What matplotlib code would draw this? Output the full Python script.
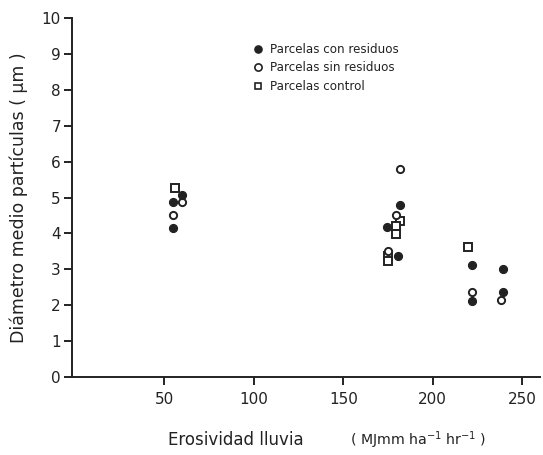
import matplotlib
matplotlib.use("Agg")
import matplotlib.pyplot as plt
from matplotlib.lines import Line2D

# Data
con_x = [59.9, 55.0, 55.0, 181.9, 174.4, 180.7, 222.2, 239.1, 222.2, 239.1]
con_y = [5.07, 4.88, 4.14, 4.79, 4.18, 3.37, 3.11, 3.00, 2.13, 2.38]

sin_x = [59.9, 55.0, 181.9, 179.6, 175.2, 222.2, 238.2]
sin_y = [4.88, 4.51, 5.78, 4.50, 3.52, 2.38, 2.14]

ctl_x = [55.8, 181.5, 179.6, 179.6, 175.2, 175.2, 219.5]
ctl_y = [5.26, 4.35, 4.20, 3.97, 3.38, 3.23, 3.61]

x_ticks = [50, 100, 150, 200, 250]
y_ticks = [0, 1, 2, 3, 4, 5, 6, 7, 8, 9, 10]
legend_labels = ["Parcelas con residuos", "Parcelas sin residuos", "Parcelas control"]

ink = "#222222"
plt.rcParams['font.family'] = ['DejaVu Sans']

fig = plt.figure(figsize=(5.43, 4.55), dpi=100)
ax = fig.add_axes([72/543, 78/455, (540-72)/543, (377-18)/455])

ms = 5.2
ax.plot(ctl_x, ctl_y, ls='none', marker='s', ms=ms, mfc='white', mec=ink, mew=1.4, zorder=3)
ax.plot(sin_x, sin_y, ls='none', marker='o', ms=ms, mfc='white', mec=ink, mew=1.4, zorder=3)
ax.plot(con_x, con_y, ls='none', marker='o', ms=ms+0.6, mfc=ink, mec=ink, mew=0.8, zorder=4)

ax.set_xlim(-1.7, 260)
ax.set_ylim(0, 10)
ax.set_xticks(x_ticks)
ax.set_yticks(y_ticks)
ax.spines['top'].set_visible(False)
ax.spines['right'].set_visible(False)
for s in ['left', 'bottom']:
    ax.spines[s].set_linewidth(1.4)
    ax.spines[s].set_color(ink)
ax.tick_params(axis='both', direction='out', length=6, width=1.4, color=ink,
               labelsize=11, labelcolor=ink, pad=2)
ax.tick_params(axis='x', pad=5)

ax.set_ylabel("Diámetro medio partículas ( µm )", fontsize=12.5, color=ink, labelpad=10)

fig.text(168/543, 1-440/455, "Erosividad lluvia", fontsize=12, color=ink, va='center', ha='left')
fig.text(350/543, 1-440/455, r"( MJmm ha$^{-1}$ hr$^{-1}$ )", fontsize=10.2, color=ink, va='center', ha='left')

handles = [
    Line2D([], [], ls='none', marker='o', ms=ms, mfc=ink, mec=ink),
    Line2D([], [], ls='none', marker='o', ms=ms, mfc='white', mec=ink, mew=1.2),
    Line2D([], [], ls='none', marker='s', ms=ms-0.4, mfc='white', mec=ink, mew=1.2),
]
leg = ax.legend(handles, legend_labels, loc='upper left', bbox_to_anchor=(252/543, 1-43/455),
                bbox_transform=fig.transFigure, frameon=False, fontsize=8.6,
                handlelength=1.0, handletextpad=0.5, labelspacing=0.45, borderpad=0,
                borderaxespad=0)
for t in leg.get_texts():
    t.set_color(ink)

fig.savefig("out.png", dpi=100, facecolor='white')
